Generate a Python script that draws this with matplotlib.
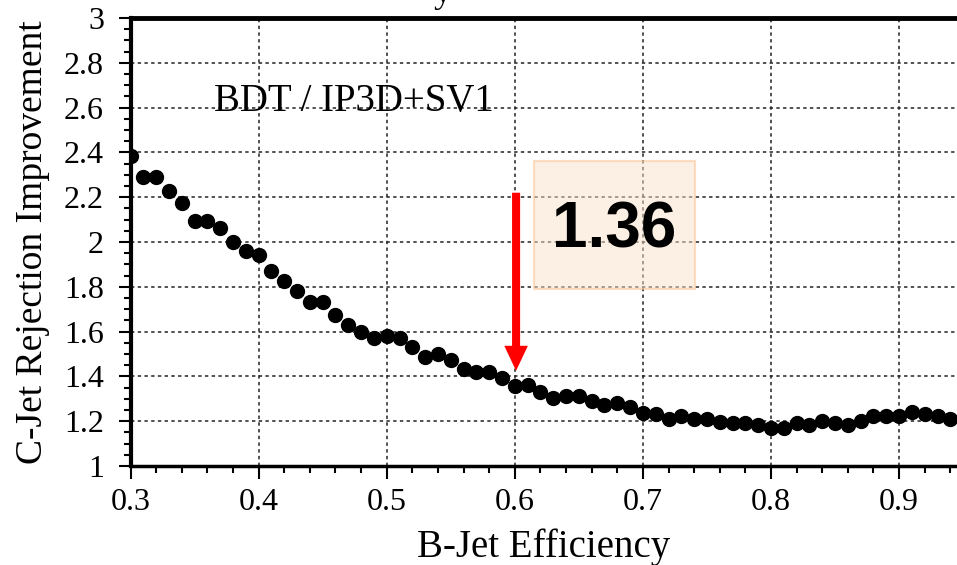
import matplotlib
matplotlib.use("Agg")
import matplotlib.pyplot as plt
from matplotlib.ticker import MultipleLocator, FuncFormatter
from matplotlib.patches import Rectangle

# Data
b_eff = [0.30, 0.31, 0.32, 0.33, 0.34, 0.35, 0.36, 0.37, 0.38, 0.39,
         0.40, 0.41, 0.42, 0.43, 0.44, 0.45, 0.46, 0.47, 0.48, 0.49,
         0.50, 0.51, 0.52, 0.53, 0.54, 0.55, 0.56, 0.57, 0.58, 0.59,
         0.60, 0.61, 0.62, 0.63, 0.64, 0.65, 0.66, 0.67, 0.68, 0.69,
         0.70, 0.71, 0.72, 0.73, 0.74, 0.75, 0.76, 0.77, 0.78, 0.79,
         0.80, 0.81, 0.82, 0.83, 0.84, 0.85, 0.86, 0.87, 0.88, 0.89,
         0.90, 0.91, 0.92, 0.93, 0.94]
c_rej_impr = [2.384, 2.292, 2.292, 2.229, 2.173, 2.092, 2.092, 2.061, 2.001, 1.960,
              1.940, 1.871, 1.825, 1.780, 1.731, 1.731, 1.673, 1.629, 1.600, 1.570,
              1.580, 1.570, 1.530, 1.488, 1.500, 1.471, 1.432, 1.421, 1.421, 1.391,
              1.359, 1.362, 1.332, 1.302, 1.313, 1.313, 1.292, 1.271, 1.280, 1.262,
              1.238, 1.232, 1.211, 1.223, 1.211, 1.208, 1.198, 1.193, 1.193, 1.182,
              1.170, 1.170, 1.192, 1.182, 1.200, 1.193, 1.184, 1.200, 1.223, 1.223,
              1.223, 1.241, 1.232, 1.223, 1.208]
highlight_x = 0.60
highlight_label = "1.36"
legend_text = "BDT / IP3D+SV1"
x_label = "B-Jet Efficiency"
y_label = "C-Jet Rejection Improvement"

serif = ["Liberation Serif", "DejaVu Serif"]

fig = plt.figure(figsize=(9.57, 5.65), dpi=100)
ax = fig.add_axes([130.5 / 957, 1 - 466 / 565, 1 - 130.5 / 957, (466 - 18) / 565])

ax.set_xlim(0.3, 0.9452)
ax.set_ylim(1.0, 3.0)

ax.plot(b_eff, c_rej_impr, "o", color="black", markersize=10, zorder=5)

# Grid
ax.grid(True, which="major", color="#222222", linestyle=(0, (2.2, 2.2)), linewidth=1.1)
ax.set_axisbelow(True)

# Ticks
ax.xaxis.set_major_locator(MultipleLocator(0.1))
ax.xaxis.set_minor_locator(MultipleLocator(0.02))
ax.yaxis.set_major_locator(MultipleLocator(0.2))
ax.yaxis.set_minor_locator(MultipleLocator(0.05))
ax.yaxis.set_major_formatter(FuncFormatter(lambda v, p: f"{v:.1f}".rstrip("0").rstrip(".")))
ax.xaxis.set_major_formatter(FuncFormatter(lambda v, p: f"{v:.1f}"))
ax.tick_params(which="major", direction="out", length=9, width=1.5, labelsize=23)
ax.tick_params(axis="y", which="major", pad=10)
ax.tick_params(axis="x", which="major", pad=7)
ax.tick_params(which="minor", direction="out", length=5, width=1.5)
for lab in ax.get_xticklabels() + ax.get_yticklabels():
    lab.set_fontfamily(serif)

# Spines
ax.spines["right"].set_visible(False)
ax.spines["top"].set_linewidth(3.5)
ax.spines["left"].set_linewidth(3.0)
ax.spines["bottom"].set_linewidth(2.5)

ax.set_xlabel(x_label, fontsize=28, family=serif, labelpad=8)
ax.set_ylabel(y_label, fontsize=27, family=serif, labelpad=10)

# Annotation text
ax.text(0.365, 2.625, legend_text, fontsize=28, family=serif, ha="left", va="center")

# Highlight box
ax.add_patch(Rectangle((0.615, 1.79), 0.126, 0.572, facecolor="#FBE1C8", alpha=0.5,
                       edgecolor="#F9C08C", linewidth=1.5, zorder=3))
ax.text(0.6775, 2.05, highlight_label, fontsize=46, fontweight="bold",
        family=["Liberation Sans", "DejaVu Sans"], ha="center", va="center", zorder=6)

# Red arrow
ax.annotate("", xy=(highlight_x + 0.001, 1.425), xytext=(highlight_x + 0.001, 2.22),
            arrowprops=dict(width=5.8, headwidth=17, headlength=18, shrink=0,
                            facecolor="#FF0000", edgecolor="none"), zorder=7)

# Partially visible title glyph at the top
fig.text(0.462, 1 - 1.5 / 565, "y", fontsize=26, family=serif, ha="center", va="baseline")

fig.savefig("out.png", dpi=100)
